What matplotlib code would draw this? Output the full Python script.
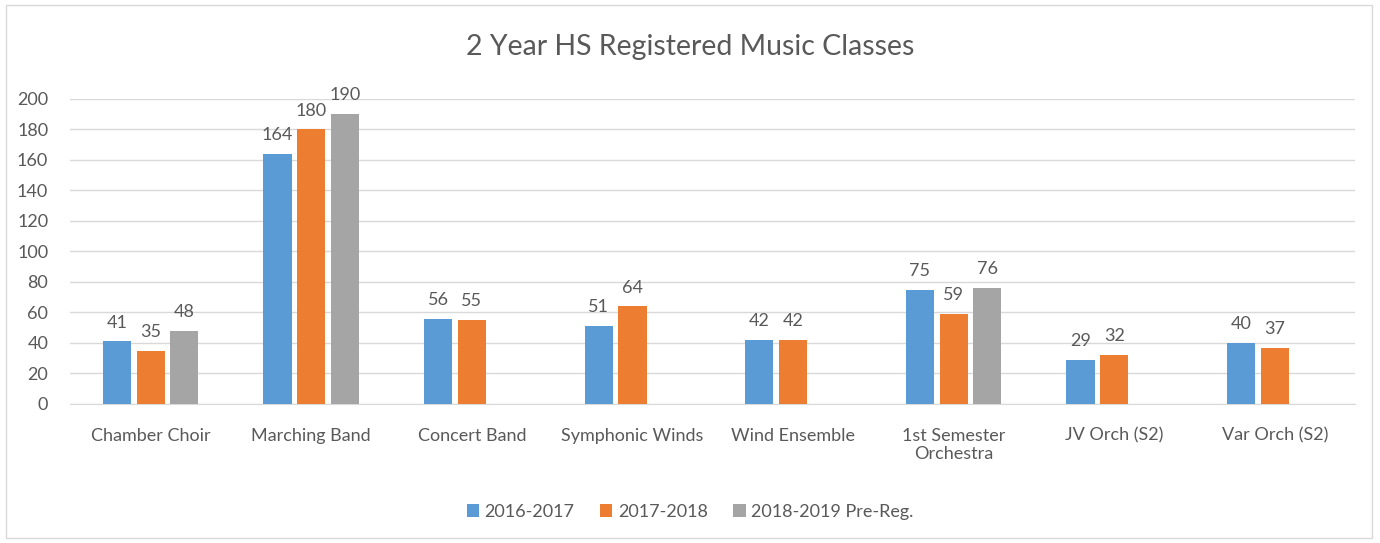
import matplotlib.pyplot as plt
import numpy as np

plt.rcParams['font.family'] = ['Lato', 'DejaVu Sans']

categories = ['Chamber Choir', 'Marching Band', 'Concert Band', 'Symphonic Winds',
              'Wind Ensemble', '1st Semester\nOrchestra', 'JV Orch (S2)', 'Var Orch (S2)']
series_names = ['2016-2017', '2017-2018', '2018-2019 Pre-Reg.']
y2016 = [41, 164, 56, 51, 42, 75, 29, 40]
y2017 = [35, 180, 55, 64, 42, 59, 32, 37]
y2018 = [48, 190, None, None, None, 76, None, None]
colors = ['#5B9BD5', '#ED7D31', '#A5A5A5']
yticks = [0, 20, 40, 60, 80, 100, 120, 140, 160, 180, 200]

txt = '#595959'
fig = plt.figure(figsize=(13.8, 5.43), dpi=100)
ax = fig.add_axes([0.051, 0.256, 0.931, 0.562])

x = np.arange(len(categories))
step = 0.21
width = 0.175
for i, (name, vals) in enumerate(zip(series_names, [y2016, y2017, y2018])):
    xs = [xi + (i - 1) * step for xi, v in zip(x, vals) if v is not None]
    vs = [v for v in vals if v is not None]
    bars = ax.bar(xs, vs, width, color=colors[i], label=name, zorder=3)
    for b, v in zip(bars, vs):
        ax.text(b.get_x() + b.get_width() / 2, v + 7, str(v), ha='center', va='bottom',
                fontsize=13, color=txt)

ax.set_xlim(-0.5, len(categories) - 0.5)
ax.set_ylim(0, 200)
ax.set_yticks(yticks)
ax.set_xticks(x)
ax.set_xticklabels(categories)
ax.tick_params(axis='both', length=0, labelsize=13, labelcolor=txt)
ax.tick_params(axis='x', pad=17)
ax.tick_params(axis='y', pad=16)
ax.grid(axis='y', color='#D9D9D9', linewidth=1, zorder=0)
for s in ['top', 'right', 'left']:
    ax.spines[s].set_visible(False)
ax.spines['bottom'].set_color('#D9D9D9')

fig.text(0.5, 0.913, '2 Year HS Registered Music Classes', ha='center', va='center',
         fontsize=20.5, color=txt)
fig.legend(loc='center', bbox_to_anchor=(0.5, 0.057), ncol=3, frameon=False,
           fontsize=13, labelcolor=txt, handlelength=0.7, handleheight=0.7,
           columnspacing=1.4, handletextpad=0.3)

fig.patches.append(plt.Rectangle((0.004, 0.01), 0.99, 0.98, transform=fig.transFigure,
                                 fill=False, edgecolor='#D9D9D9', linewidth=1))
fig.savefig('out.png', dpi=100, facecolor='white')
